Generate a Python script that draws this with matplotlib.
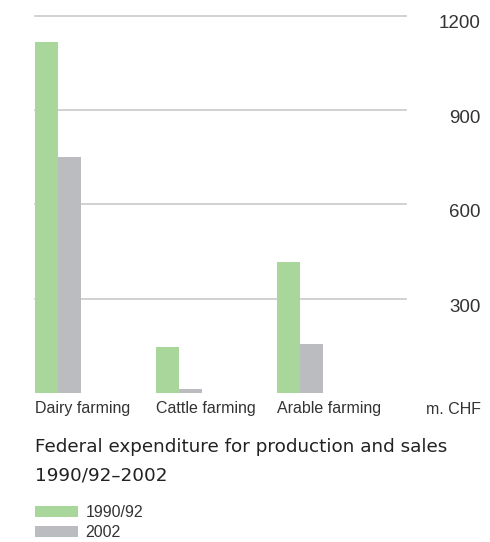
import matplotlib
matplotlib.use('Agg')
import matplotlib.pyplot as plt
from matplotlib.patches import Patch

plt.rcParams['font.family'] = ['Liberation Sans', 'DejaVu Sans']

# data
categories = ['Dairy farming', 'Cattle farming', 'Arable farming']
series_names = ['1990/92', '2002']
values_1990 = [1116, 146, 417]
values_2002 = [750, 13, 156]
y_ticks = [300, 600, 900, 1200]

green = '#a9d69a'
grey = '#bbbcc0'
text_col = '#333333'

W, H = 490, 542
fig = plt.figure(figsize=(W / 100, H / 100), dpi=100)

# axes box in pixel terms of the reference
left, right, top, bottom = 35, 406, 15.5, 393
ax = fig.add_axes([left / W, 1 - bottom / H, (right - left) / W, (bottom - top) / H])

unit = 121.0           # px between groups
bw = 23.0 / unit       # bar width in data units
xs = list(range(len(categories)))
ax.bar(xs, values_1990, width=bw, align='edge', color=green, zorder=3)
ax.bar([x + bw for x in xs], values_2002, width=bw, align='edge', color=grey, zorder=3)

ax.set_xlim(0, (right - left) / unit)
ax.set_ylim(0, 1200)

for s in ax.spines.values():
  s.set_visible(False)

ax.set_yticks(y_ticks)
ax.yaxis.tick_right()
ax.yaxis.grid(True, color='#c9c9c9', linewidth=1.2, zorder=0)
for gl in ax.yaxis.get_gridlines():
  gl.set_clip_on(False)
ax.tick_params(axis='y', length=0, pad=54, labelsize=13.5, labelcolor=text_col)
for lbl in ax.get_yticklabels():
  lbl.set_horizontalalignment('right')
  lbl.set_verticalalignment('top')

ax.set_xticks(xs)
ax.set_xticklabels(categories, ha='left')
ax.tick_params(axis='x', length=0, pad=6, labelsize=11.5, labelcolor=text_col)

fig.text(481 / W, 1 - 414 / H, 'm. CHF', ha='right', va='baseline', fontsize=11.5, color=text_col)

# title is letter-spaced in the original, DejaVu gets the width about right
fig.text(35 / W, 1 - 452.5 / H, 'Federal expenditure for production and sales',
         ha='left', va='baseline', fontsize=13.2, color='#222222', family='DejaVu Sans')
fig.text(35 / W, 1 - 480 / H, '1990/92\u20132002',
         ha='left', va='baseline', fontsize=13.2, color='#222222', family='DejaVu Sans')

handles = [Patch(facecolor=green, edgecolor='none'), Patch(facecolor=grey, edgecolor='none')]
fig.legend(handles, series_names, loc='upper left', bbox_to_anchor=(35 / W, 1 - 505 / H),
           frameon=False, fontsize=11.5, handlelength=2.7, handleheight=0.65,
           handletextpad=0.45, labelspacing=0.3, borderpad=0, borderaxespad=0,
           labelcolor=text_col)

fig.savefig('out.png', dpi=100)
